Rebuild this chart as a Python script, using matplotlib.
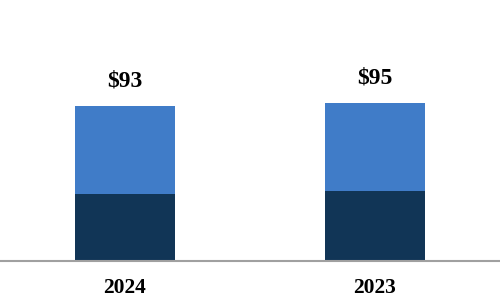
import numpy as np
import matplotlib.pyplot as plt

years = ['2024', '2023']
dark_vals = [40, 42]
light_vals = [53, 53]
totals = [93, 95]

dark_color = '#113556'
light_color = '#407CC8'

fig = plt.figure(figsize=(5, 3), dpi=100)
ax = fig.add_axes([0, 39 / 300, 1, 261 / 300])

x = np.arange(len(years))
ax.bar(x, dark_vals, width=0.4, color=dark_color)
ax.bar(x, light_vals, width=0.4, bottom=dark_vals, color=light_color)

for xi, t in zip(x, totals):
    ax.annotate('$' + str(t), (xi, t), xytext=(0, 18), textcoords='offset points',
                ha='center', va='center', fontsize=17, fontweight='bold',
                family='Liberation Serif')

ax.set_xlim(-0.5, 1.5)
ax.set_ylim(0, 156.6)
ax.set_xticks(x)
ax.set_xticklabels(years, fontsize=15.5, fontweight='bold', family='Liberation Serif')
ax.tick_params(axis='x', length=0, pad=12)
ax.set_yticks([])
for s in ['top', 'left', 'right']:
    ax.spines[s].set_visible(False)
ax.spines['bottom'].set_color('#A0A0A0')
ax.spines['bottom'].set_linewidth(1.5)

fig.savefig('out.png', dpi=100)
